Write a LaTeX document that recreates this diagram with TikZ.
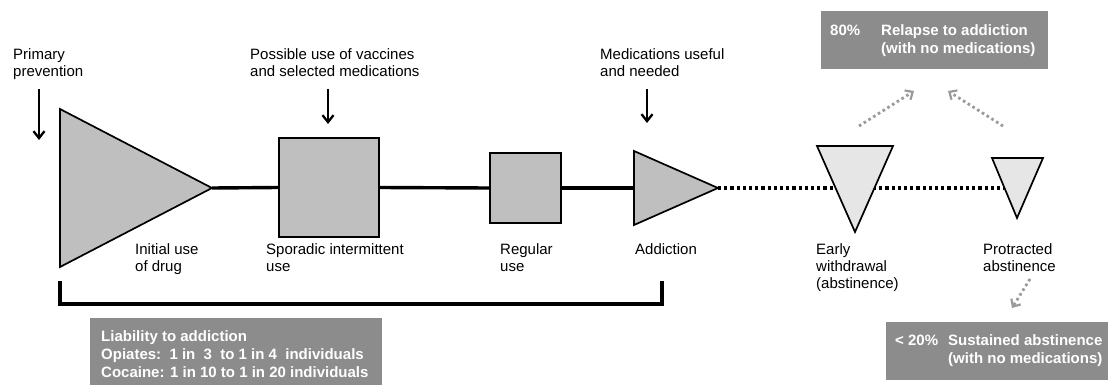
\documentclass[tikz,border=0pt]{standalone}
\usepackage{fontspec}
\setmainfont{Liberation Sans}
\usetikzlibrary{arrows.meta}
\definecolor{shapegray}{HTML}{BFBFBF}
\definecolor{lightshape}{HTML}{E6E6E6}
\definecolor{boxgray}{HTML}{8C8C8C}
\definecolor{arrowgray}{HTML}{9A9A9A}
\begin{document}
\begin{tikzpicture}[x=1pt,y=-1pt,
  font=\fontsize{15}{17.3}\selectfont,
  lbl/.style={anchor=base west, inner sep=0pt, align=left},
  boxtxt/.style={lbl, text=white, font=\fontsize{15}{17.8}\selectfont\bfseries},
  shp/.style={draw=black, line width=1.7pt, fill=shapegray, line join=miter},
  lightshp/.style={shp, fill=lightshape},
  mainline/.style={line width=3.4pt},
  dotline/.style={line width=3.2pt, dash pattern=on 3.2pt off 3pt},
  blackarrow/.style={line width=2.3pt, -{Straight Barb[length=7pt,width=11pt]}},
  grayarrow/.style={draw=arrowgray, line width=2.8pt, dash pattern=on 2.6pt off 3pt,
     -{Straight Barb[length=6pt,width=11pt,line width=2.2pt]}},
  graybox/.style={fill=boxgray, inner sep=0pt}
]
\useasboundingbox (0,0) rectangle (1108,385);

% triangle coordinates
\coordinate (t1a) at (60,109);
\coordinate (t1b) at (60,267);
\coordinate (t1tip) at (212,188);
\coordinate (t2a) at (634,151);
\coordinate (t2b) at (634,225);
\coordinate (t2left) at (634,188);
\coordinate (t2tip) at (718,188);
\coordinate (t3a) at (817,146);
\coordinate (t3b) at (893,146);
\coordinate (t3tip) at (855,232);
\coordinate (t4a) at (992,158);
\coordinate (t4b) at (1043,158);
\coordinate (t4tip) at (1017,218);
\coordinate (t4left) at (1004,188);

% squares
\node[shp, minimum width=100pt, minimum height=99pt, inner sep=0pt] (s1) at (329,187.5) {};
\node[shp, minimum width=71pt, minimum height=70pt, inner sep=0pt] (s2) at (525.5,188) {};

% main connectors
\draw[mainline] (t1tip) -- (s1.west);
\draw[mainline] (s1.east) -- (s2.west);
\draw[mainline] (s2.east) -- (t2left);
\draw[dotline] (t2tip) -- (t4left);

% triangles
\draw[shp] (t1a) -- (t1b) -- (t1tip) -- cycle;
\draw[shp] (t2a) -- (t2b) -- (t2tip) -- cycle;
\draw[lightshp] (t3a) -- (t3b) -- (t3tip) -- cycle;
\draw[lightshp] (t4a) -- (t4b) -- (t4tip) -- cycle;

% top labels and arrows (anchor = baseline of the last line)
\node[lbl] (lp) at (13,76.8) {Primary\\prevention};
\node[lbl] (lv) at (250,76.8) {Possible use of vaccines\\and selected medications};
\node[lbl] (lm) at (600,76.8) {Medications useful\\and needed};
\coordinate (a1s) at (39,89);   \coordinate (a1e) at (39,140);
\coordinate (a2s) at (328,89);  \coordinate (a2e) at (328,124);
\coordinate (a3s) at (647,89);  \coordinate (a3e) at (647,123);
\draw[blackarrow] (a1s) -- (a1e);
\draw[blackarrow] (a2s) -- (a2e);
\draw[blackarrow] (a3s) -- (a3e);

% stage labels
\node[lbl] (l1) at (135,271.3) {Initial use\\of drug};
\node[lbl] (l2) at (266,271.3) {Sporadic intermittent\\use};
\node[lbl] (l3) at (500,271.3) {Regular\\use};
\node[lbl] (l4) at (635,254) {Addiction};
\node[lbl] (l5) at (816,288.6) {Early\\withdrawal\\(abstinence)};
\node[lbl] (l6) at (983,271.3) {Protracted\\abstinence};

% bracket
\coordinate (br1) at (60,281);
\coordinate (br2) at (662,281);
\draw[mainline] (br1) -- ++(0,23) -| (br2);

% grey boxes
\node[graybox, minimum width=227pt, minimum height=58pt] (relapse) at (934.5,40) {};
\node[graybox, minimum width=226pt, minimum height=58pt] (sustain) at (999,351) {};
\node[graybox, minimum width=292pt, minimum height=76pt] (liab) at (236,356) {};

\node[boxtxt] (rp) at (830,35.7) {80\%};
\node[boxtxt] (rt) at (881,53.5) {Relapse to addiction\\(with no medications)};
\node[boxtxt] (sp) at (895,345.7) {< 20\%};
\node[boxtxt] (st) at (948,363.5) {Sustained abstinence\\(with no medications)};
\node[boxtxt] (lt) at (101,377.3) {Liability to addiction\\Opiates:\ \ 1 in\ \ 3\ \ to 1 in 4\ \ individuals\\Cocaine: 1 in 10 to 1 in 20 individuals};

% grey dotted arrows
\coordinate (g1s) at (859,126);  \coordinate (g1e) at (914,91);
\coordinate (g2s) at (1003,126); \coordinate (g2e) at (948,91);
\coordinate (g3s) at (1030,279); \coordinate (g3e) at (1012,308);
\draw[grayarrow] (g1s) -- (g1e);
\draw[grayarrow] (g2s) -- (g2e);
\draw[grayarrow] (g3s) -- (g3e);
\end{tikzpicture}
\end{document}
